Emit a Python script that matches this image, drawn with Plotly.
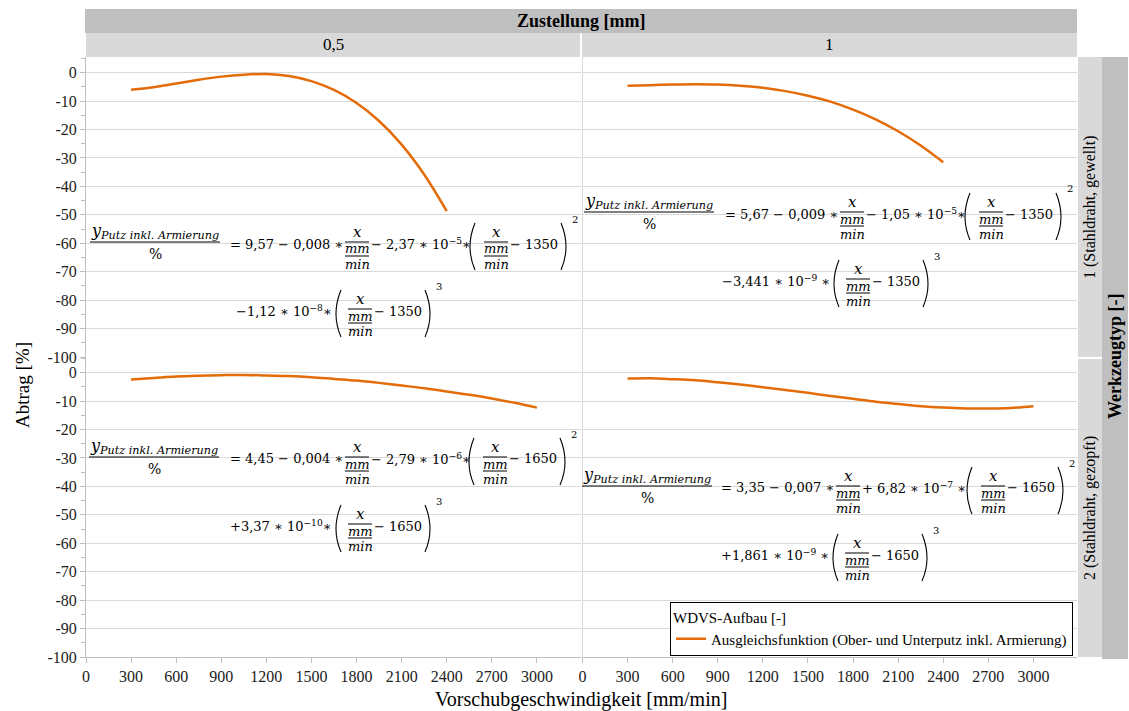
import plotly.graph_objects as go
from plotly.subplots import make_subplots

# Daten
x_top = [300, 450, 600, 750, 900, 1050, 1200, 1350, 1500, 1650, 1800, 1950, 2100, 2250, 2400]
y_w1_05 = [-6.0, -5.1, -3.8, -2.5, -1.4, -0.7, -0.5, -1.2, -3.0, -6.1, -10.7, -17.0, -25.3, -35.8, -48.7]
y_w1_1 = [-4.6, -4.4, -4.2, -4.1, -4.2, -4.6, -5.3, -6.5, -8.1, -10.2, -13.0, -16.4, -20.6, -25.6, -31.5]

x_bot = [300, 450, 600, 750, 900, 1050, 1200, 1350, 1500, 1650, 1800, 1950, 2100, 2250,
         2400, 2550, 2700, 2850, 3000]
y_w2_05 = [-2.4, -1.9, -1.4, -1.1, -0.9, -0.8, -1.0, -1.2, -1.6, -2.2, -2.8, -3.6, -4.5, -5.5,
           -6.6, -7.8, -9.1, -10.6, -12.3]
y_w2_1 = [-2.1, -2.0, -2.3, -2.7, -3.4, -4.2, -5.1, -6.1, -7.1, -8.2, -9.2, -10.2, -11.0, -11.8,
          -12.3, -12.6, -12.6, -12.4, -11.8]

zustellung = ["0,5", "1"]
werkzeug = ["1 (Stahldraht, gewellt)", "2 (Stahldraht, gezopft)"]
x_ticks = [0, 300, 600, 900, 1200, 1500, 1800, 2100, 2400, 2700, 3000]
y_ticks = [0, -10, -20, -30, -40, -50, -60, -70, -80, -90, -100]
y_ticktext = ["0", "-10", "-20", "-30", "-40", "-50", "-60", "-70", "-80", "-90", "-100"]

# Ausgleichsfunktionen (Text)
eq_run1 = ["= 9,57 − 0,008 ∗", "= 5,67 − 0,009 ∗", "= 4,45 − 0,004 ∗", "= 3,35 − 0,007 ∗"]
eq_run2 = ["− 2,37 ∗ 10<sup>−5</sup>∗", "− 1,05 ∗ 10<sup>−5</sup>∗",
           "− 2,79 ∗ 10<sup>−6</sup>∗", "+ 6,82 ∗ 10<sup>−7</sup> ∗"]
eq_run4 = ["−1,12 ∗ 10<sup>−8</sup>∗", "−3,441 ∗ 10<sup>−9</sup> ∗",
           "+3,37 ∗ 10<sup>−10</sup>∗", "+1,861 ∗ 10<sup>−9</sup> ∗"]
eq_shift = ["− 1350", "− 1350", "− 1650", "− 1650"]

ORANGE = "#E36C09"
DARK = "#BFBFBF"
LIGHT = "#D9D9D9"
SERIF = "Liberation Serif"
MATH = "DejaVu Serif"
RUN = 13

fig = make_subplots(rows=2, cols=2, horizontal_spacing=2 / 991, vertical_spacing=0)

series = [(1, 1, x_top, y_w1_05), (1, 2, x_top, y_w1_1), (2, 1, x_bot, y_w2_05), (2, 2, x_bot, y_w2_1)]
for i, (r, c, xs, ys) in enumerate(series):
    fig.add_trace(go.Scatter(x=xs, y=ys, mode="lines", line=dict(color=ORANGE, width=2.5, shape="spline"),
                             name="Ausgleichsfunktion (Ober- und Unterputz inkl. Armierung)",
                             showlegend=(i == 0)), row=r, col=c)

for r in (1, 2):
    for c in (1, 2):
        fig.update_xaxes(range=[0, 3290], tickvals=x_ticks, showticklabels=(r == 2),
                         ticks="outside" if r == 2 else "", ticklen=5, tickcolor=DARK,
                         showgrid=False, zeroline=False, showline=(r == 2), linecolor=DARK,
                         tickfont=dict(family=SERIF, size=16, color="#222"), row=r, col=c)
        fig.update_yaxes(range=[-100, 5.5], tickvals=y_ticks, ticktext=y_ticktext,
                         showticklabels=(c == 1), ticks="outside" if c == 1 else "", ticklen=5,
                         tickcolor=DARK, showgrid=True, gridcolor=LIGHT, zeroline=False,
                         showline=True, linecolor=DARK if c == 1 else LIGHT,
                         minor=dict(ticks="outside" if c == 1 else "", tick0=-95, dtick=10,
                                    ticklen=4, tickcolor=DARK, showgrid=False),
                         tickfont=dict(family=SERIF, size=16, color="#222"), row=r, col=c)

# Pixel -> Papierkoordinaten
PL, PR, PT, PB = 86, 1077, 57, 657


def px(x):
    return (x - PL) / (PR - PL)


def py(y):
    return (PB - y) / (PB - PT)


def txt(x, y, s, size=14, anchor="center", family=MATH, angle=0):
    fig.add_annotation(x=px(x), y=py(y), xref="paper", yref="paper", text=s, showarrow=False,
                       xanchor=anchor, yanchor="middle", textangle=angle, borderpad=0,
                       font=dict(size=size, family=family, color="black"))


def rect(x0, y0, x1, y1, color):
    fig.add_shape(type="rect", xref="paper", yref="paper", x0=px(x0), x1=px(x1), y0=py(y0), y1=py(y1),
                  fillcolor=color, line=dict(width=0), layer="below")


def bar(x0, x1, y):
    fig.add_shape(type="line", xref="paper", yref="paper", x0=px(x0), x1=px(x1), y0=py(y), y1=py(y),
                  line=dict(color="black", width=1))


def paren(x, a, opening=True):
    if opening:
        p = f"M {px(x + 7)},{py(a - 21)} Q {px(x - 3)},{py(a + 3)} {px(x + 7)},{py(a + 26)}"
    else:
        p = f"M {px(x)},{py(a - 21)} Q {px(x + 10)},{py(a + 3)} {px(x)},{py(a + 26)}"
    fig.add_shape(type="path", xref="paper", yref="paper", path=p, line=dict(color="black", width=1.1))


def frac(cx, a):
    txt(cx, a - 12, "<i>x</i>", 15)
    txt(cx, a + 5, "<i>mm</i>", 13)
    txt(cx, a + 20, "<i>min</i>", 13)
    bar(cx - 12, cx + 12, a - 2)
    bar(cx - 12, cx + 12, a + 12)


# Positionen der Formeln (Pixel): Achse, Zaehler, Brueche
eq_pos = [
    dict(a=244, num=155, f1=357, f2=496, f3=360),
    dict(a=214, num=649, f1=852, f2=991, f3=858),
    dict(a=459, num=154, f1=357, f2=495, f3=360),
    dict(a=488, num=647, f1=848, f2=993, f3=857),
]

for i, p in enumerate(eq_pos):
    a = p["a"]
    a2 = a + 67
    f1, f2, f3 = p["f1"], p["f2"], p["f3"]
    txt(p["num"], a - 13, "<i>y</i><sub><i>Putz inkl. Armierung</i></sub>", 16)
    bar(p["num"] - 65, p["num"] + 65, a - 2)
    txt(p["num"], a + 10, "%", 14)
    txt(f1 - 13, a, eq_run1[i], RUN, anchor="right")
    frac(f1, a)
    txt(f1 + 13, a, eq_run2[i], RUN, anchor="left")
    paren(f2 - 28, a, True)
    frac(f2, a)
    txt(f2 + 13, a, eq_shift[i], RUN, anchor="left")
    paren(f2 + 65, a, False)
    txt(f2 + 79, a - 25, "2", 10)
    txt(f3 - 27, a2, eq_run4[i], RUN, anchor="right")
    paren(f3 - 26, a2, True)
    frac(f3, a2)
    txt(f3 + 13, a2, eq_shift[i], RUN, anchor="left")
    paren(f3 + 65, a2, False)
    txt(f3 + 79, a2 - 25, "3", 10)

# Kopf- und Seitenleisten
rect(85, 9, 1077, 33, DARK)
txt(581, 21, "<b>Zustellung [mm]</b>", 18, family=SERIF)
rect(86, 33, 580, 57, LIGHT)
rect(582, 33, 1077, 57, LIGHT)
txt(333, 45, zustellung[0], 17, family=SERIF)
txt(829, 45, zustellung[1], 17, family=SERIF)
rect(1078, 57, 1102, 357, LIGHT)
rect(1078, 359, 1102, 657, LIGHT)
rect(1102, 57, 1128, 659, DARK)
txt(1090, 207, werkzeug[0], 16, family=SERIF, angle=-90)
txt(1090, 508, werkzeug[1], 16, family=SERIF, angle=-90)
txt(1115, 357, "<b>Werkzeugtyp [-]</b>", 18, family=SERIF, angle=-90)

# Achsentitel
txt(22, 385, "Abtrag [%]", 19, family=SERIF, angle=-90)
txt(581, 699, "Vorschubgeschwindigkeit [mm/min]", 20, family=SERIF)

fig.update_layout(
    width=1129, height=711,
    margin=dict(l=86, r=52, t=57, b=54),
    plot_bgcolor="white", paper_bgcolor="white",
    font=dict(family=SERIF, color="black"),
    legend=dict(x=px(1073), xanchor="right", y=py(656), yanchor="bottom",
                bordercolor="black", borderwidth=1, bgcolor="white",
                font=dict(family=SERIF, size=15), itemwidth=30,
                title=dict(text="WDVS-Aufbau [-]", font=dict(family=SERIF, size=15))),
)

fig.write_html("out.html", config={"displayModeBar": False},
               post_script="document.body.style.margin='0px';")
